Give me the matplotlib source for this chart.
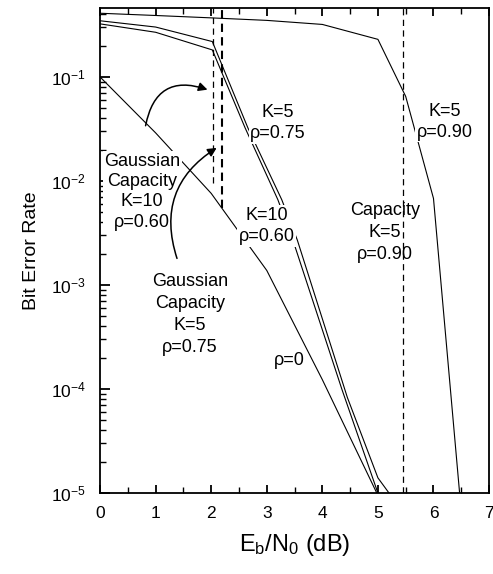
"""BER vs Eb/N0 curves with Gaussian / constrained capacity limits."""
import math

import matplotlib
matplotlib.use("Agg")
import matplotlib.pyplot as plt
from matplotlib.patches import FancyArrowPatch
from matplotlib.ticker import FixedLocator, LogLocator, NullFormatter, FuncFormatter

plt.rcParams["font.family"] = ["Liberation Sans", "DejaVu Sans"]
plt.rcParams["mathtext.fontset"] = "custom"
plt.rcParams["mathtext.rm"] = "Liberation Sans"
plt.rcParams["mathtext.it"] = "Liberation Sans"
plt.rcParams["mathtext.default"] = "regular"

# --- data -----------------------------------------------------------------
rho0_db = [0, 1, 2, 3, 4, 4.98]
rho0_ber = [1.0e-1, 2.9e-2, 7.6e-3, 1.38e-3, 1.23e-4, 1.0e-5]

k10_060_db = [0, 1, 2.02, 2.61, 3.2, 3.47, 4.35, 5.0]
k10_060_ber = [0.324, 0.269, 0.182, 3.24e-2, 6.6e-3, 2.7e-3, 1.0e-4, 1.0e-5]

k5_075_db = [0, 1, 2.02, 2.66, 3.27, 3.55, 4.45, 5.0, 5.2]
k5_075_ber = [0.347, 0.302, 0.219, 3.24e-2, 6.6e-3, 2.7e-3, 8.3e-5, 1.4e-5, 1.0e-5]

k5_090_db = [0, 1, 2, 3, 4, 5, 5.5, 6.0, 6.47]
k5_090_ber = [0.41, 0.39, 0.37, 0.35, 0.32, 0.23, 6.5e-2, 6.8e-3, 1.0e-5]

# capacity limits (dB) and where the dashed markers stop (BER)
gauss_cap_k10_db, gauss_cap_k10_end = 2.03, 9.5e-3
gauss_cap_k5_db, gauss_cap_k5_end = 2.2, 5.5e-3
cap_k5_090_db = 5.45

x_ticks = [0, 1, 2, 3, 4, 5, 6, 7]
y_ticks = [1e-5, 1e-4, 1e-3, 1e-2, 1e-1]

# --- figure -----------------------------------------------------------------
fig = plt.figure(figsize=(4.93, 5.74), dpi=100)
ax = fig.add_axes([0.203, 0.141, 0.789, 0.845])

lw = 0.8
ax.plot(rho0_db, rho0_ber, color="black", lw=lw)
ax.plot(k10_060_db, k10_060_ber, color="black", lw=lw)
ax.plot(k5_075_db, k5_075_ber, color="black", lw=lw)
ax.plot(k5_090_db, k5_090_ber, color="black", lw=lw)

ax.set_yscale("log")
ax.set_xlim(0, 7)
ax.set_ylim(1e-5, 0.46)

ax.plot([gauss_cap_k10_db] * 2, [gauss_cap_k10_end, 0.46], color="black",
        lw=0.9, linestyle=(0, (5, 3.5)))
ax.plot([gauss_cap_k5_db] * 2, [gauss_cap_k5_end, 0.46], color="black",
        lw=1.5, linestyle=(0, (4, 2.5)))
ax.axvline(cap_k5_090_db, color="black", lw=0.9, linestyle=(0, (5, 3.5)))

# labels
fs = 13
box = dict(facecolor="white", edgecolor="none", pad=1.0)
ax.text(0.76, 7.9e-3, "Gaussian\nCapacity\nK=10\n\u03c1=0.60", ha="center",
        va="center", fontsize=fs, linespacing=1.25, bbox=box, zorder=4)
ax.text(1.62, 5.2e-4, "Gaussian\nCapacity\nK=5\n\u03c1=0.75", ha="center",
        va="center", fontsize=fs, linespacing=1.4, bbox=box, zorder=4)
ax.text(3.2, 3.6e-2, "K=5\n\u03c1=0.75", ha="center", va="center",
        fontsize=fs, linespacing=1.3, bbox=box, zorder=4)
ax.text(3.0, 3.7e-3, "K=10\n\u03c1=0.60", ha="center", va="center",
        fontsize=fs, linespacing=1.35, bbox=box, zorder=4)
ax.text(3.4, 1.9e-4, "\u03c1=0", ha="center", va="center", fontsize=fs,
        bbox=dict(facecolor="white", edgecolor="none", pad=0.2), zorder=4)
ax.text(6.2, 3.7e-2, "K=5\n\u03c1=0.90", ha="center", va="center",
        fontsize=fs, linespacing=1.3, bbox=box, zorder=4)
ax.text(5.13, 3.2e-3, "Capacity\nK=5\n\u03c1=0.90", ha="center",
        va="center", fontsize=fs, linespacing=1.4, zorder=4)

# curved arrows pointing at the Gaussian capacity markers
ax.add_patch(FancyArrowPatch((0.81, 3.2e-2), (1.98, 7.4e-2),
                             connectionstyle="arc3,rad=-0.6",
                             arrowstyle="-|>", mutation_scale=13,
                             lw=1.1, color="black", zorder=5))
ax.add_patch(FancyArrowPatch((1.40, 1.7e-3), (2.14, 2.15e-2),
                             connectionstyle="arc3,rad=-0.4",
                             arrowstyle="-|>", mutation_scale=13,
                             lw=1.1, color="black", zorder=5))

# axes styling
ax.xaxis.set_major_locator(FixedLocator(x_ticks))
ax.xaxis.set_minor_locator(FixedLocator([v + 0.5 for v in x_ticks[:-1]]))
ax.yaxis.set_major_locator(FixedLocator(y_ticks))
ax.yaxis.set_minor_locator(LogLocator(base=10, subs=range(2, 10)))
ax.yaxis.set_minor_formatter(NullFormatter())
ax.yaxis.set_major_formatter(
    FuncFormatter(lambda v, _: f"$10^{{{int(round(math.log10(v)))}}}$"))

ax.tick_params(axis="x", which="major", direction="in", top=True, length=6,
               width=1.3, labelsize=12.5, pad=9)
ax.tick_params(axis="x", which="minor", direction="in", top=True, length=4,
               width=1.0)
ax.tick_params(axis="y", which="major", direction="in", right=False, length=7,
               width=1.3, labelsize=12.5, pad=10)
ax.tick_params(axis="y", which="minor", direction="in", right=False, length=4,
               width=1.0)
for s in ax.spines.values():
    s.set_linewidth(1.3)

ax.set_xlabel("$E_b/N_0$ (dB)", fontsize=17, labelpad=8)
ax.set_ylabel("Bit Error Rate", fontsize=14, labelpad=8)

fig.savefig("out.png", dpi=100)
